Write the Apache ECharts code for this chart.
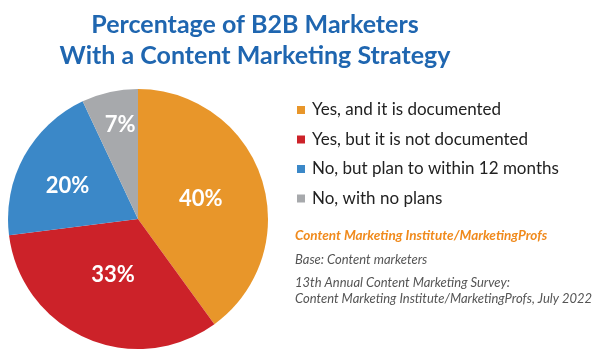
<!DOCTYPE html>
<html><head><meta charset="utf-8">
<script src="https://cdn.jsdelivr.net/npm/echarts@6/dist/echarts.min.js"></script>
<style>html,body{margin:0;padding:0;background:#fff}#c{width:600px;height:364px}</style>
</head><body><div id="c"></div>
<script>
const categories = ['Yes, and it is documented','Yes, but it is not documented','No, but plan to within 12 months','No, with no plans'];
const values = [40, 33, 20, 7];
const colors = ['#E8962A','#CC2229','#3B88C8','#A7A9AC'];
const titleLines = ['Percentage of B2B Marketers','With a Content Marketing Strategy'];
const sourceLines = ['Content Marketing Institute/MarketingProfs','Base: Content marketers','13th Annual Content Marketing Survey:','Content Marketing Institute/MarketingProfs, July 2022'];

const labelOffsets = [[-2,1],[2,-7],[-11,0],[-3,-28]];
const chart = echarts.init(document.getElementById('c'));
chart.setOption({
  animation:false,
  title:{text:titleLines.join('\n'), left:250, textAlign:'center', top:4,
    textStyle:{fontFamily:'Lato', fontWeight:'bold', fontSize:25, lineHeight:31, color:'#1F66B0'}},
  legend:{orient:'vertical', left:292, top:96, icon:'rect', itemWidth:8, itemHeight:8, itemGap:11.5,
    data:categories,
    textStyle:{fontFamily:'Lato', fontSize:17, color:'#222', lineHeight:18, padding:[0,0,0,2]}},
  graphic:[
    {type:'text', left:295, top:229, style:{text:sourceLines[0], fontFamily:'Lato', fontStyle:'italic', fontWeight:'bold', fontSize:13.5, fill:'#F08A1C'}},
    {type:'text', left:295, top:253, style:{text:sourceLines[1], fontFamily:'Lato', fontStyle:'italic', fontSize:13, fill:'#555'}},
    {type:'text', left:295, top:275, style:{text:sourceLines[2]+'\n'+sourceLines[3], fontFamily:'Lato', fontStyle:'italic', fontSize:13, lineHeight:16, fill:'#555'}}
  ],
  series:[{
    type:'pie', center:[138,219], radius:[0,130], startAngle:90, clockwise:true,
    label:{position:'inside', formatter:'{c}%', fontFamily:'Lato', fontWeight:'bold', fontSize:22, color:'#fff'},
    labelLine:{show:false},
    itemStyle:{borderWidth:0},
    emphasis:{disabled:true},
    data:values.map((v,i)=>({name:categories[i], value:v, itemStyle:{color:colors[i]}, label:{offset:labelOffsets[i]}}))
  }]
});
</script></body></html>
